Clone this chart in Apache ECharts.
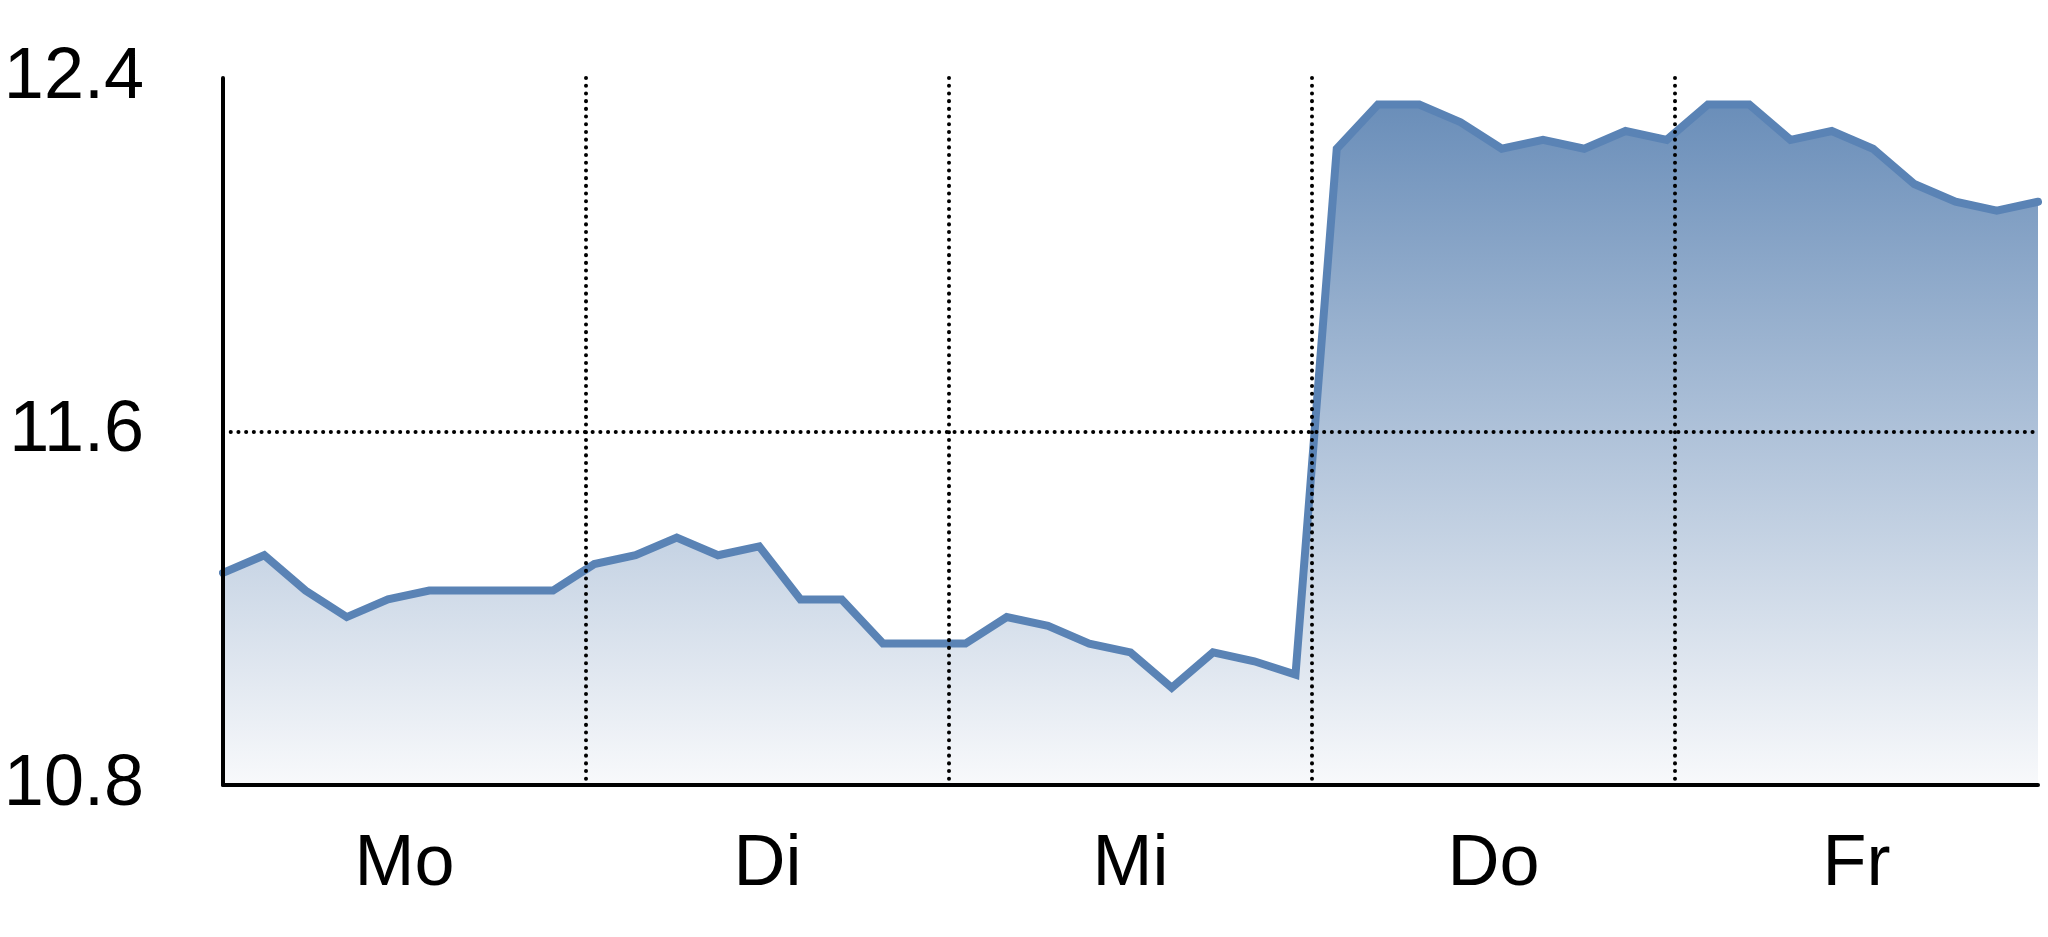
<!DOCTYPE html>
<html>
<head>
<meta charset="utf-8">
<title>Kursverlauf</title>
<script src="https://cdn.jsdelivr.net/npm/echarts@6/dist/echarts.min.js"></script>
<style>
  html, body { margin: 0; padding: 0; background: #fff; }
  #chart { width: 2048px; height: 937px; }
</style>
</head>
<body>
<div id="chart"></div>
<script>
// Wochentage (Kategorien der x-Achse)
const days = ['Mo', 'Di', 'Mi', 'Do', 'Fr']
// Kurswerte, 45 Messpunkte über die Woche
const prices = [
  11.28, 11.32, 11.24, 11.18, 11.22, 11.24, 11.24, 11.24, 11.24,
  11.30, 11.32, 11.36, 11.32, 11.34, 11.22, 11.22, 11.12, 11.12,
  11.12, 11.18, 11.16, 11.12, 11.10, 11.02, 11.10, 11.08, 11.05,
  12.24, 12.34, 12.34, 12.30, 12.24, 12.26, 12.24, 12.28, 12.26,
  12.34, 12.34, 12.26, 12.28, 12.24, 12.16, 12.12, 12.10, 12.12
]
// y-Achse
const yMin = 10.8
const yMax = 12.4
const yStep = 0.8

const font = "'Liberation Sans Narrow', 'Arial Narrow', 'Liberation Sans', sans-serif"
// gepunktete Gitterlinien
const dotted = {
  color: '#000',
  width: 4,
  type: [0.1, 7.6],
  cap: 'round'
}

let myChart = echarts.init(document.getElementById('chart'))

var option = {
  animation: false,
  backgroundColor: '#fff',
  grid: {
    left: 223,
    right: 10,
    top: 78,
    bottom: 152,
    outerBoundsMode: 'none',
    containLabel: false
  },
  xAxis: [{
    type: 'category',
    data: days,
    boundaryGap: true,
    z: 5,
    axisLine: { lineStyle: { color: '#000', width: 4 } },
    axisTick: { show: false },
    axisLabel: {
      color: '#000',
      fontFamily: font,
      fontSize: 72,
      margin: 44
    },
    splitLine: {
      show: true,
      showMinLine: false,
      showMaxLine: false,
      lineStyle: dotted
    }
  }, {
    // versteckte Achse für die einzelnen Messpunkte
    type: 'value',
    min: 0,
    max: prices.length - 1,
    show: false
  }],
  yAxis: {
    type: 'value',
    min: yMin,
    max: yMax,
    interval: yStep,
    z: 5,
    axisLine: { show: true, lineStyle: { color: '#000', width: 4 } },
    axisTick: { show: false },
    axisLabel: {
      color: '#000',
      fontFamily: font,
      fontSize: 72,
      margin: 79,
      formatter: v => v.toFixed(1)
    },
    splitLine: {
      show: true,
      showMinLine: false,
      showMaxLine: false,
      lineStyle: dotted
    }
  },
  series: [{
    type: 'line',
    xAxisIndex: 1,
    data: prices.map((v, i) => [i, v]),
    showSymbol: false,
    lineStyle: {
      color: '#5a83b5',
      width: 8,
      cap: 'round',
      join: 'miter'
    },
    areaStyle: {
      origin: 'start',
      opacity: 1,
      color: new echarts.graphic.LinearGradient(0, 0, 0, 1, [
        { offset: 0, color: '#6a8eb9' },
        { offset: 1, color: '#f8f9fb' }
      ])
    }
  }]
}

myChart.setOption(option)
</script>
</body>
</html>
